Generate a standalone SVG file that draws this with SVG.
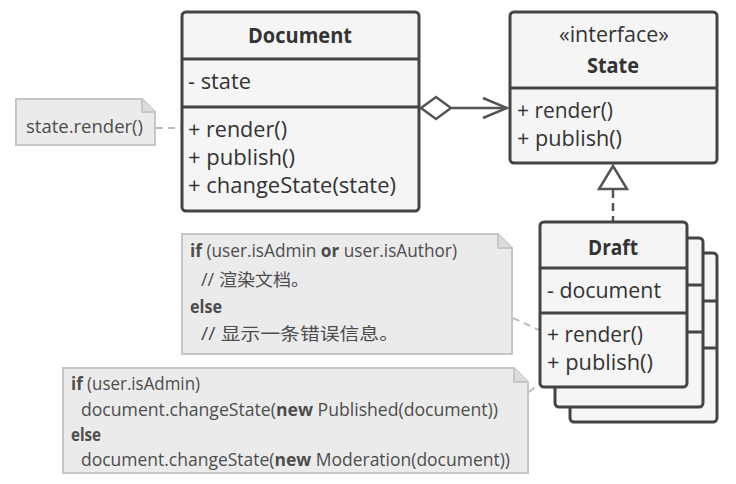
<svg xmlns="http://www.w3.org/2000/svg" width="736" height="484" viewBox="0 0 736 484">
<style>
.box{fill:#f5f5f5;stroke:#444;stroke-width:3}
.div{stroke:#444;stroke-width:3;fill:none}
.t{font-family:"Open Sans","Noto Sans",sans-serif;font-size:21px;fill:#333}
.b{font-weight:bold}
.note{fill:#ebebeb;stroke:#c6c6c6;stroke-width:2}
.fold{fill:#dcdcdc;stroke:#c6c6c6;stroke-width:2;stroke-linejoin:round}
.n{font-family:"Open Sans","Noto Sans","Noto Sans CJK SC",sans-serif;font-size:17.5px;fill:#4d4d4d}
.nc{stroke:#bdbdbd;stroke-width:2;stroke-dasharray:7,5;fill:none}
.ln{stroke:#555;stroke-width:2.5;fill:none}
</style>
<rect width="736" height="484" fill="#ffffff"/>

<g id="connectors">
  <line class="nc" x1="156" y1="128" x2="181" y2="128"/>
  <line class="nc" x1="513" y1="318" x2="539" y2="330"/>
  <line class="nc" x1="529" y1="392" x2="539" y2="384"/>
  <line class="ln" x1="452" y1="108" x2="507" y2="108"/>
  <polygon points="421,108 436,97 451,108 436,119" fill="#fff" stroke="#555" stroke-width="2.5"/>
  <polyline class="ln" points="483,98 507,108 483,118"/>
  <line class="ln" x1="613" y1="190" x2="613" y2="221" stroke-dasharray="8,5"/>
  <polygon points="613,166 599,189 627,189" fill="#fff" stroke="#555" stroke-width="2.5" stroke-linejoin="miter"/>
</g>

<g id="note-render">
  <path class="note" d="M16,99 H142 L155,112 V145 H16 Z"/>
  <path class="fold" d="M142,99 V112 H155"/>
  <text class="n" x="26" y="133" textLength="117" lengthAdjust="spacingAndGlyphs">state.render()</text>
</g>

<g id="document">
  <rect class="box" x="182" y="12" width="237" height="199" rx="4"/>
  <line class="div" x1="182" y1="59" x2="419" y2="59"/>
  <line class="div" x1="182" y1="107" x2="419" y2="107"/>
  <text class="t b" x="300" y="43" text-anchor="middle" font-size="21" textLength="104" lengthAdjust="spacingAndGlyphs">Document</text>
  <text class="t" x="188" y="89" textLength="63" lengthAdjust="spacingAndGlyphs">- state</text>
  <text class="t" x="188" y="137" textLength="99" lengthAdjust="spacingAndGlyphs">+ render()</text>
  <text class="t" x="188" y="165" textLength="107" lengthAdjust="spacingAndGlyphs">+ publish()</text>
  <text class="t" x="188" y="193" textLength="208" lengthAdjust="spacingAndGlyphs">+ changeState(state)</text>
</g>

<g id="state">
  <rect class="box" x="510" y="12" width="207" height="151" rx="4"/>
  <line class="div" x1="510" y1="88" x2="717" y2="88"/>
  <text class="t" x="614" y="42" text-anchor="middle" textLength="110" lengthAdjust="spacingAndGlyphs">«interface»</text>
  <text class="t b" x="613" y="73" text-anchor="middle" textLength="52" lengthAdjust="spacingAndGlyphs">State</text>
  <text class="t" x="517" y="118" textLength="96" lengthAdjust="spacingAndGlyphs">+ render()</text>
  <text class="t" x="517" y="146" textLength="105" lengthAdjust="spacingAndGlyphs">+ publish()</text>
</g>

<g id="draft">
  <rect class="box" x="570" y="253" width="147" height="169" rx="4"/>
  <line class="div" x1="570" y1="301" x2="717" y2="301"/>
  <line class="div" x1="570" y1="348" x2="717" y2="348"/>
  <rect class="box" x="555" y="238" width="148" height="169" rx="4"/>
  <line class="div" x1="555" y1="285" x2="703" y2="285"/>
  <line class="div" x1="555" y1="332" x2="703" y2="332"/>
  <rect class="box" x="540" y="222" width="147" height="165" rx="4"/>
  <line class="div" x1="540" y1="268" x2="687" y2="268"/>
  <line class="div" x1="540" y1="313" x2="687" y2="313"/>
  <text class="t b" x="613" y="255" text-anchor="middle" textLength="50" lengthAdjust="spacingAndGlyphs">Draft</text>
  <text class="t" x="547" y="298" textLength="114" lengthAdjust="spacingAndGlyphs">- document</text>
  <text class="t" x="547" y="342" textLength="96" lengthAdjust="spacingAndGlyphs">+ render()</text>
  <text class="t" x="547" y="370" textLength="106" lengthAdjust="spacingAndGlyphs">+ publish()</text>
</g>

<g id="note-draft-render">
  <path class="note" d="M182,234 H498 L512,248 V354 H182 Z"/>
  <path class="fold" d="M498,234 V248 H512"/>
  <text class="n" x="190" y="257" textLength="267" lengthAdjust="spacingAndGlyphs"><tspan font-weight="bold">if</tspan> (user.isAdmin <tspan font-weight="bold">or</tspan> user.isAuthor)</text>
  <text class="n" x="201" y="286" font-size="18" textLength="108" lengthAdjust="spacingAndGlyphs">// 渲染文档。</text>
  <text class="n" x="190" y="313" font-weight="bold" textLength="32" lengthAdjust="spacingAndGlyphs">else</text>
  <text class="n" x="201" y="340" font-size="18" textLength="198" lengthAdjust="spacingAndGlyphs">// 显示一条错误信息。</text>
</g>

<g id="note-draft-publish">
  <path class="note" d="M63,368 H514 L528,382 V473 H63 Z"/>
  <path class="fold" d="M514,368 V382 H528"/>
  <text class="n" x="71" y="390" textLength="129" lengthAdjust="spacingAndGlyphs"><tspan font-weight="bold">if</tspan> (user.isAdmin)</text>
  <text class="n" x="81" y="416" textLength="417" lengthAdjust="spacingAndGlyphs">document.changeState(<tspan font-weight="bold">new</tspan> Published(document))</text>
  <text class="n" x="71" y="441" font-weight="bold" textLength="30" lengthAdjust="spacingAndGlyphs">else</text>
  <text class="n" x="81" y="466" textLength="429" lengthAdjust="spacingAndGlyphs">document.changeState(<tspan font-weight="bold">new</tspan> Moderation(document))</text>
</g>
</svg>
